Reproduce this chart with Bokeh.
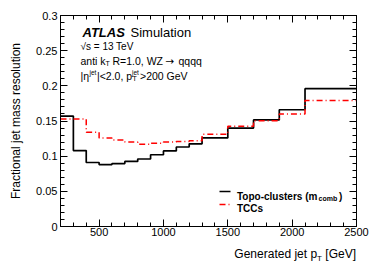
from bokeh.plotting import figure
from bokeh.models import (Label, LinearAxis, FixedTicker, CustomJSTickFormatter, Range1d, Div)
from bokeh.layouts import column
from bokeh.embed import file_html
from bokeh.resources import INLINE

# ---- data ----
bin_edges = [200, 300, 400, 500, 600, 700, 800, 900, 1000, 1100, 1200, 1300,
             1500, 1700, 1900, 2100, 2500]
topo_res = [0.157, 0.108, 0.091, 0.088, 0.0895, 0.0925, 0.096, 0.102, 0.1075,
            0.113, 0.1175, 0.126, 0.140, 0.1515, 0.166, 0.196]
tcc_res = [0.153, 0.153, 0.134, 0.126, 0.123, 0.120, 0.117, 0.1185, 0.120,
           0.121, 0.122, 0.131, 0.1425, 0.1505, 0.160, 0.179]
x_range = (200, 2500)
y_range = (0.0, 0.3)
x_major = [500, 1000, 1500, 2000, 2500]
x_minor = [300, 400, 600, 700, 800, 900, 1100, 1200, 1300, 1400, 1600, 1700,
           1800, 1900, 2100, 2200, 2300, 2400]
y_major = [0.0, 0.05, 0.1, 0.15, 0.2, 0.25, 0.3]
y_minor = [0.01, 0.02, 0.03, 0.04, 0.06, 0.07, 0.08, 0.09, 0.11, 0.12, 0.13, 0.14,
           0.16, 0.17, 0.18, 0.19, 0.21, 0.22, 0.23, 0.24, 0.26, 0.27, 0.28, 0.29]

# ---- layout constants (picture pixels) ----
W, H = 374, 269
PH = 245                            # figure height; x-axis title sits below it
FL, FR, FT, FB = 60, 356, 15, 226   # frame edges in the picture
FONT = "Liberation Sans"

p = figure(width=W, height=PH, x_range=Range1d(*x_range), y_range=Range1d(*y_range),
           output_backend="svg", toolbar_location=None,
           min_border_left=FL, min_border_right=W - FR,
           min_border_top=FT, min_border_bottom=PH - FB, margin=(0, 0, 0, 0))
p.grid.visible = False
p.outline_line_color = "black"
p.background_fill_color = "white"
p.border_fill_color = "white"

yfmt = CustomJSTickFormatter(code="return (Math.round(tick*100)/100).toString();")
blank = CustomJSTickFormatter(code="return '';")

def style_axis(ax, labels=True, standoff=3):
    ax.major_tick_in = 7
    ax.major_tick_out = 0
    ax.minor_tick_in = 4
    ax.minor_tick_out = 0
    ax.axis_line_color = "black"
    ax.major_tick_line_color = "black"
    ax.minor_tick_line_color = "black"
    ax.major_label_text_font = FONT
    ax.major_label_text_font_size = "11px"
    ax.major_label_text_color = "black"
    ax.major_label_standoff = standoff if labels else 0
    if not labels:
        ax.formatter = blank
        ax.axis_label_standoff = 0

p.xaxis.ticker = FixedTicker(ticks=x_major, minor_ticks=x_minor)
p.yaxis.ticker = FixedTicker(ticks=y_major, minor_ticks=y_minor)
p.yaxis.formatter = yfmt
style_axis(p.xaxis[0], standoff=1)
style_axis(p.yaxis[0], standoff=3)
p.yaxis.axis_label = "Fractional jet mass resolution"
p.yaxis.axis_label_text_font = FONT
p.yaxis.axis_label_text_font_size = "12px"
p.yaxis.axis_label_text_font_style = "normal"
p.yaxis.axis_label_text_color = "black"
p.yaxis.axis_label_standoff = 10

top_ax = LinearAxis(ticker=FixedTicker(ticks=x_major, minor_ticks=x_minor))
right_ax = LinearAxis(ticker=FixedTicker(ticks=y_major, minor_ticks=y_minor))
style_axis(top_ax, labels=False)
style_axis(right_ax, labels=False)
p.add_layout(top_ax, "above")
p.add_layout(right_ax, "right")

# ---- histograms ----
p.step(x=bin_edges, y=topo_res + [topo_res[-1]], mode="after",
       line_color="black", line_width=1.7)
p.step(x=bin_edges, y=tcc_res + [tcc_res[-1]], mode="after",
       line_color="#ff0000", line_width=1.5, line_dash="6 3 1 3")

# ---- text helpers (picture coords -> frame screen coords) ----
def lab(px, py, text, size, style="normal", color="black", align="left", font=FONT):
    p.add_layout(Label(x=px - FL, y=FB - py, x_units="screen", y_units="screen",
                       text=text, text_font=font, text_font_size=f"{size}px",
                       text_font_style=style, text_color=color, text_align=align,
                       text_baseline="alphabetic"))

def dx(px):
    return x_range[0] + (px - FL) * (x_range[1] - x_range[0]) / (FR - FL)

def dy(py):
    return y_range[0] + (FB - py) * (y_range[1] - y_range[0]) / (FB - FT)

# ATLAS block
lab(82, 31.5, "ATLAS", 13, "bold italic")
lab(130, 31.5, "Simulation", 13)
lab(80, 46, "√s = 13 TeV", 10)
lab(80, 60.5, "anti k", 10.5)
lab(105, 63, "T", 7)
lab(112, 60.5, "R=1.0, WZ", 10.5)
lab(165, 60.5, "→", 10.5, font="DejaVu Sans")
lab(178, 60.5, "qqqq", 10.5)
lab(80, 75.5, "|η", 10.5)
lab(89, 71.5, "jet", 6.5)
lab(96.5, 75.5, "|<2.0, p", 10.5)
lab(131.5, 71.5, "jet", 6.5)
lab(132, 78, "T", 7)
lab(139.5, 75.5, ">200 GeV", 10.5)

# legend
p.line(x=[dx(219), dx(230)], y=[dy(191), dy(191)], line_color="black", line_width=1.7)
p.line(x=[dx(219), dx(230)], y=[dy(204), dy(204)], line_color="#ff0000",
       line_width=1.5, line_dash="6 3 1 3")
lab(236.5, 195.5, "Topo-clusters (m", 10, "bold")
lab(318, 198, "comb", 7, "bold")
lab(338.5, 195.5, ")", 10, "bold")
lab(236.5, 208, "TCCs", 10, "bold")

# x axis title (below the figure, right aligned to the frame edge)
xtitle = Div(
    text=(f"<div style=\"display:block;width:{FR}px;box-sizing:border-box;"
          "font-family:'Liberation Sans';font-size:12px;line-height:12px;"
          "color:black;text-align:right;white-space:nowrap;padding-top:3px;\">"
          "Generated jet p<span style=\"font-size:8px;position:relative;top:3px;\">T</span>"
          " [GeV]</div>"),
    width=FR, height=H - PH, margin=(0, 0, 0, 0))

layout = column(p, xtitle, spacing=0, margin=(0, 0, 0, 0))
open("out.html", "w").write(file_html(layout, INLINE))
